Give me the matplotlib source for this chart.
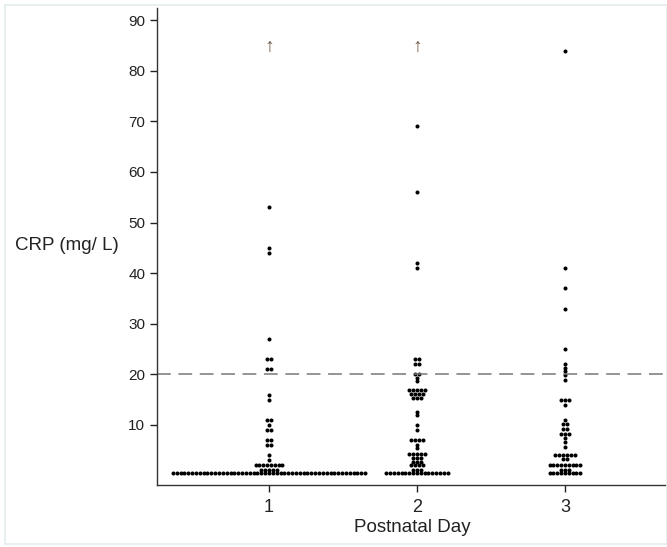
import matplotlib.pyplot as plt
import matplotlib.patches as mpatches
import numpy as np

plt.rcParams['font.family'] = ['Liberation Sans', 'DejaVu Sans']

# CRP values (mg/L), with how many dots sit at each value
day1_values = [53, 45, 44, 27, 23, 21, 16, 15, 11, 10, 9, 7, 6, 4, 3, 2, 1.1, 0.45]
day1_counts = [1, 1, 1, 1, 2, 2, 1, 1, 2, 1, 2, 2, 2, 1, 1, 8, 5, 51]

day2_values = [69, 56, 42, 41, 23, 22, 20, 19.3, 18.6, 17, 16.2, 15.4, 12.6, 12,
               10, 9, 7, 6, 5.4, 4.3, 3.5, 2.7, 2, 1.1, 0.45]
day2_counts = [1, 1, 1, 1, 2, 2, 2, 1, 1, 5, 4, 3, 1, 1,
               1, 1, 4, 1, 1, 5, 3, 3, 4, 3, 17]

day3_values = [84, 41, 37, 33, 25, 22, 21.3, 20.6, 19.9, 18.9, 15, 14, 11, 10.2, 9.3,
               8.2, 7.4, 6.6, 5.7, 4, 3.3, 2, 1.1, 0.45]
day3_counts = [1, 1, 1, 1, 1, 1, 1, 1, 1, 1, 3, 1, 1, 2, 2,
               3, 1, 1, 1, 6, 2, 9, 3, 9]

days = [1, 2, 3]
day_labels = ['1', '2', '3']
off_scale_days = [1, 2]   # days with a value above the plotted range
cutoff = 20
yticks = [10, 20, 30, 40, 50, 60, 70, 80, 90]

fig = plt.figure(figsize=(6.67, 5.47), dpi=100)
ax = fig.add_axes([157 / 667, 1 - 485 / 547, 1 - 157 / 667, 477 / 547])

step = 0.026  # horizontal gap between dots in a row
for day, vals, cnts in zip(days, [day1_values, day2_values, day3_values],
                           [day1_counts, day2_counts, day3_counts]):
    xs, ys = [], []
    for v, n in zip(vals, cnts):
        offs = (np.arange(n) - (n - 1) / 2) * step
        xs.extend(day + offs)
        ys.extend([v] * n)
    ax.plot(xs, ys, linestyle='none', marker='o', markersize=2.9,
            color='black', markeredgewidth=0)

for d in off_scale_days:
    ax.text(d, 84.6, '\u2191', ha='center', va='center', fontsize=14,
            color='#6e5a48')

ax.axhline(cutoff, color='#777777', linewidth=1.1, dashes=(9, 5))

ax.set_xlim(0.243, 3.69)
ax.set_ylim(-1.86, 92.4)
ax.set_xticks(days)
ax.set_xticklabels(day_labels, fontsize=13)
ax.set_yticks(yticks)
ax.tick_params(axis='y', labelsize=11, length=5, width=1, colors='#222222')
ax.tick_params(axis='x', length=5, width=1, colors='#222222', pad=5)
for s in ['top', 'right']:
    ax.spines[s].set_visible(False)
for s in ['left', 'bottom']:
    ax.spines[s].set_color('#333333')
    ax.spines[s].set_linewidth(1.0)

ax.set_xlabel('Postnatal Day', fontsize=13.5, color='#222222', labelpad=2)
fig.text(15 / 667, 1 - 245 / 547, 'CRP (mg/ L)', fontsize=13.5, color='#222222',
         ha='left', va='center')

# faint frame around the whole picture
fig.patches.append(mpatches.Rectangle((5 / 667, 3 / 547), 1 - 5 / 667, 1 - 8 / 547,
                                      transform=fig.transFigure, fill=False,
                                      edgecolor='#e3ecee', linewidth=1.2))

fig.savefig('out.png', dpi=100)
